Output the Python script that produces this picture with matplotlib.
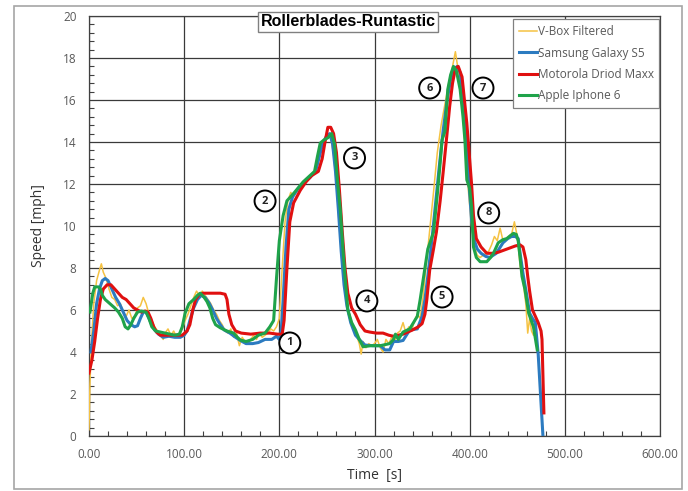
import matplotlib
matplotlib.use("Agg")
import matplotlib.pyplot as plt
from matplotlib.patches import Rectangle
from matplotlib.ticker import MultipleLocator, FormatStrFormatter

plt.rcParams['font.family'] = ['Open Sans', 'DejaVu Sans']

# ---------------- data ----------------
series_names = ["V-Box Filtered", "Samsung Galaxy S5", "Motorola Driod Maxx", "Apple Iphone 6"]

vbox_t = [0, 1, 3, 5, 8, 11, 13, 15, 18, 21, 24, 27, 30, 33, 36, 39, 42, 45, 48, 51, 54, 57, 60, 63, 66,
          69, 72, 75, 78, 80, 83, 86, 89, 92, 95, 98, 101, 104, 107, 110, 113, 116, 119, 122, 125, 128,
          131, 134, 137, 140, 143, 146, 149, 152, 155, 158, 161, 164, 167, 170, 173, 176, 179, 182, 185,
          188, 191, 194, 197, 200, 203, 206, 209, 212, 215, 220, 225, 230, 235, 239, 243, 247, 251, 254,
          257, 260, 263, 266, 269, 273, 277, 281, 284, 286, 288, 291, 294, 297, 300, 303, 306, 309, 312,
          315, 318, 321, 324, 327, 330, 333, 336, 339, 342, 345, 348, 351, 354, 358, 362, 366, 370, 374,
          378, 382, 385, 387, 390, 393, 396, 399, 402, 405, 408, 411, 414, 417, 420, 423, 426, 429, 432,
          435, 438, 441, 444, 447, 450, 453, 456, 459, 461, 463, 465, 467]
vbox_v = [0.3, 2.5, 4.8, 6.3, 7.4, 7.9, 8.2, 7.8, 7.5, 7.0, 6.6, 6.5, 6.2, 6.3, 5.9, 5.7, 6.0, 5.6, 5.7,
          6.1, 6.2, 6.6, 6.3, 5.8, 5.5, 5.2, 5.0, 4.8, 4.6, 4.9, 5.1, 4.8, 5.0, 4.7, 4.9, 5.1, 5.5, 5.8,
          6.2, 6.6, 6.9, 6.7, 6.9, 6.7, 6.5, 6.3, 6.0, 5.8, 5.5, 5.3, 5.0, 4.9, 5.1, 4.7, 4.9, 4.3, 4.7,
          4.5, 4.4, 4.6, 4.8, 4.6, 4.9, 4.7, 4.8, 4.9, 5.1, 5.0, 5.2, 5.6, 8.0, 10.2, 11.2, 11.6, 11.4,
          11.8, 12.1, 12.3, 12.5, 12.6, 13.6, 14.1, 14.3, 14.2, 13.4, 12.0, 10.0, 8.2, 6.8, 5.9, 5.3, 4.8,
          4.4, 3.9, 4.5, 4.2, 4.4, 4.3, 4.4, 4.6, 4.2, 4.0, 4.6, 4.4, 4.7, 4.5, 4.9, 5.0, 5.4, 4.9, 5.2,
          5.0, 5.5, 5.8, 5.6, 6.6, 8.0, 9.8, 11.6, 13.5, 14.8, 15.8, 16.8, 17.6, 18.3, 17.7, 16.9, 15.3,
          13.2, 11.5, 10.0, 9.0, 8.6, 8.5, 8.6, 8.7, 8.8, 9.1, 9.5, 9.3, 9.9, 9.3, 9.4, 9.5, 9.6, 10.2,
          9.5, 8.1, 7.4, 6.3, 4.9, 5.6, 5.0, 4.8]

samsung_t = [2, 5, 8, 11, 14, 17, 20, 24, 28, 32, 36, 40, 44, 48, 51, 54, 57, 60, 63, 66, 69, 73, 78, 84,
             90, 96, 100, 103, 106, 110, 114, 118, 122, 126, 130, 134, 138, 142, 148, 154, 159, 165, 172,
             178, 185, 192, 197, 200, 202, 204, 207, 210, 214, 220, 226, 232, 238, 242, 246, 250, 253, 256,
             259, 262, 265, 268, 271, 275, 280, 285, 290, 298, 306, 311, 316, 320, 325, 330, 337, 345, 350,
             353, 356, 360, 364, 368, 372, 376, 380, 384, 387, 390, 393, 396, 399, 402, 405, 408, 412, 417,
             421, 428, 435, 440, 444, 448, 451, 453, 456, 460, 463, 466, 469, 472, 477]
samsung_v = [4.0, 5.0, 6.3, 7.0, 7.4, 7.5, 7.4, 7.0, 6.6, 6.3, 5.9, 5.5, 5.3, 5.2, 5.25, 5.6, 5.9, 5.9,
             5.6, 5.3, 5.05, 4.85, 4.7, 4.75, 4.7, 4.7, 4.8, 5.0, 5.5, 6.1, 6.5, 6.7, 6.6, 6.35, 6.0, 5.6,
             5.3, 5.05, 4.9, 4.7, 4.55, 4.4, 4.4, 4.45, 4.6, 4.6, 4.75, 4.6, 5.0, 6.5, 9.0, 10.8, 11.4,
             11.8, 12.1, 12.3, 12.6, 13.3, 14.0, 14.3, 14.4, 13.9, 12.6, 10.8, 8.8, 7.2, 6.2, 5.4, 4.8,
             4.55, 4.33, 4.3, 4.3, 4.1, 4.1, 4.5, 4.5, 4.55, 5.05, 5.1, 5.7, 6.5, 7.6, 9.2, 11.0, 12.8,
             14.5, 15.9, 17.0, 17.5, 17.6, 17.3, 16.2, 14.3, 12.2, 10.3, 9.3, 8.9, 8.7, 8.55, 8.5, 8.7,
             9.2, 9.4, 9.5, 9.5, 9.4, 8.7, 7.75, 6.7, 5.85, 5.6, 5.4, 3.9, 0.0]

motorola_t = [0, 3, 6, 9, 12, 15, 19, 23, 27, 31, 35, 39, 43, 47, 51, 55, 59, 62, 65, 68, 71, 75, 80, 90,
              98, 103, 106, 109, 112, 116, 120, 130, 138, 143, 145, 147, 150, 154, 160, 170, 180, 190, 198,
              203, 205, 208, 211, 215, 222, 228, 234, 241, 245, 248, 251, 254, 257, 260, 263, 266, 269, 272,
              276, 280, 285, 290, 295, 302, 309, 315, 320, 325, 330, 335, 340, 346, 350, 353, 355, 358, 362,
              365, 369, 372, 376, 379, 382, 385, 388, 392, 397, 402, 404, 407, 412, 418, 424, 430, 436, 442,
              448, 453, 456, 459, 461, 463, 466, 469, 472, 475, 476, 478]
motorola_v = [3.0, 3.6, 4.5, 5.6, 6.5, 7.0, 7.2, 7.2, 7.0, 6.8, 6.6, 6.5, 6.3, 6.1, 6.0, 5.9, 5.95, 5.9,
              5.6, 5.2, 4.95, 4.8, 4.8, 4.8, 4.8, 5.0, 5.3, 6.0, 6.5, 6.75, 6.8, 6.8, 6.8, 6.75, 6.5, 5.8,
              5.3, 5.0, 4.9, 4.85, 4.9, 4.9, 4.85, 4.85, 5.5, 8.0, 10.2, 11.1, 11.7, 12.1, 12.4, 12.6,
              13.2, 14.0, 14.7, 14.7, 14.4, 13.5, 11.8, 9.8, 8.0, 6.8, 6.1, 5.8, 5.3, 5.0, 4.95, 4.9, 4.9,
              4.8, 4.75, 4.8, 4.85, 4.95, 5.05, 5.2, 5.35, 5.8, 6.5, 7.9, 8.9, 9.7, 11.2, 12.5, 14.3, 15.7,
              16.8, 17.5, 17.6, 17.1, 14.9, 12.0, 10.5, 9.4, 9.0, 8.7, 8.7, 8.75, 8.85, 8.95, 9.05, 9.1,
              9.0, 8.4, 7.6, 6.9, 6.0, 5.7, 5.4, 5.0, 4.6, 1.1]

apple_t = [1, 4, 6, 10, 12, 14, 17, 22, 27, 31, 35, 38, 41, 44, 47, 51, 55, 60, 63, 66, 70, 75, 80, 85,
           90, 95, 98, 101, 105, 110, 114, 117, 121, 124, 127, 130, 133, 138, 145, 152, 156, 159, 165, 172,
           178, 185, 190, 194, 197, 200, 204, 208, 215, 225, 237, 240, 243, 247, 251, 255, 258, 261, 264,
           267, 269, 272, 276, 280, 284, 288, 296, 306, 316, 320, 322, 325, 330, 337, 341, 345, 348, 351,
           356, 362, 366, 369, 371, 374, 377, 380, 383, 386, 390, 393, 395, 397, 400, 402, 404, 407, 411,
           418, 422, 425, 430, 435, 439, 443, 446, 449, 451, 453, 455, 458, 462, 467, 471]
apple_v = [5.9, 6.8, 7.1, 7.1, 7.0, 6.7, 6.5, 6.3, 6.1, 5.9, 5.6, 5.2, 5.1, 5.3, 5.6, 5.9, 5.95, 5.9, 5.6,
           5.2, 5.0, 4.95, 4.9, 4.85, 4.8, 4.85, 5.2, 5.85, 6.3, 6.5, 6.7, 6.8, 6.6, 6.4, 6.1, 5.6, 5.3,
           5.15, 5.0, 4.9, 4.7, 4.57, 4.5, 4.6, 4.8, 4.9, 5.2, 5.5, 7.5, 9.3, 10.5, 11.2, 11.55, 12.1,
           12.6, 13.3, 13.95, 14.1, 14.2, 14.4, 13.9, 12.2, 10.8, 8.8, 7.6, 6.0, 5.4, 5.05, 4.6, 4.25,
           4.3, 4.3, 4.4, 4.6, 4.85, 4.6, 4.95, 5.1, 5.4, 5.7, 6.5, 7.4, 8.9, 9.7, 11.5, 13.0, 14.1,
           14.5, 16.5, 17.2, 17.6, 17.4, 16.5, 15.2, 14.1, 12.2, 11.8, 10.9, 9.0, 8.5, 8.3, 8.3, 8.5,
           8.7, 9.2, 9.35, 9.4, 9.55, 9.65, 9.6, 9.3, 8.5, 7.6, 7.0, 5.85, 5.2, 4.1]

marker_labels = ["1", "2", "3", "4", "5", "6", "7", "8"]
marker_x = [211, 185, 279, 292, 371, 358, 414, 420]
marker_y = [4.43, 11.19, 13.24, 6.43, 6.62, 16.57, 16.57, 10.62]

# ---------------- figure ----------------
W, H = 688, 491
fig = plt.figure(figsize=(W / 100, H / 100), dpi=100)
ax = fig.add_axes([89 / W, 1 - 436 / H, (660 - 89) / W, (436 - 16) / H])

# outer border
fig.patches.append(Rectangle((14 / W, 1 - 489 / H), (682 - 14) / W, (489 - 6) / H,
                             transform=fig.transFigure, fill=False, edgecolor='#A6A6A6', lw=1.2))

cols = ['#F5C242', '#2C7BC0', '#E01010', '#1FA34A']
ax.plot(vbox_t, vbox_v, color=cols[0], lw=1.1, label=series_names[0], zorder=3)
ax.plot(samsung_t, samsung_v, color=cols[1], lw=2.2, label=series_names[1], zorder=4)
ax.plot(motorola_t, motorola_v, color=cols[2], lw=2.2, label=series_names[2], zorder=5)
ax.plot(apple_t, apple_v, color=cols[3], lw=2.2, label=series_names[3], zorder=6)

ax.set_xlim(0, 600)
ax.set_ylim(0, 20)
ax.xaxis.set_major_locator(MultipleLocator(100))
ax.xaxis.set_minor_locator(MultipleLocator(20))
ax.yaxis.set_major_locator(MultipleLocator(2))
ax.yaxis.set_minor_locator(MultipleLocator(0.4))
ax.xaxis.set_major_formatter(FormatStrFormatter('%.2f'))
ax.yaxis.set_major_formatter(FormatStrFormatter('%d'))
ax.tick_params(which='both', direction='in', colors='#404040', labelcolor='#595959', labelsize=8.5)
ax.tick_params(which='major', length=0, pad=9)
ax.tick_params(which='minor', length=3.5, width=0.8)
ax.grid(True, which='major', color='#3a3a3a', lw=0.9, zorder=1)
ax.set_axisbelow(True)
for s in ax.spines.values():
    s.set_color('#404040')
    s.set_linewidth(0.9)

ax.set_xlabel('Time  [s]', fontsize=10, color='#333333', labelpad=5)
ax.set_ylabel('Speed [mph]', fontsize=10, color='#333333', labelpad=12)

fig.text(348 / W, 1 - 22 / H, 'Rollerblades-Runtastic', ha='center', va='center',
         fontsize=11.5, fontweight='bold', family=['Liberation Sans', 'DejaVu Sans'], color='black',
         bbox=dict(boxstyle='square,pad=0.18', facecolor='white', edgecolor='#808080', lw=1.0),
         zorder=10)

leg = ax.legend(loc='upper right', bbox_to_anchor=(0.999, 0.992), fontsize=8.5, frameon=True,
                fancybox=False, edgecolor='#808080', framealpha=1, handlelength=1.5,
                handletextpad=0.05, borderpad=0.5, labelspacing=0.7, borderaxespad=0)
leg.get_frame().set_linewidth(0.9)
for t in leg.get_texts():
    t.set_color('#595959')

for lab, mx, my in zip(marker_labels, marker_x, marker_y):
    ax.text(mx, my, lab, ha='center', va='center', fontsize=8, fontweight='bold', color='#222222',
            bbox=dict(boxstyle='circle,pad=0.45', facecolor='white', edgecolor='black', lw=1.4),
            zorder=8)

fig.savefig('out.png', dpi=100)
